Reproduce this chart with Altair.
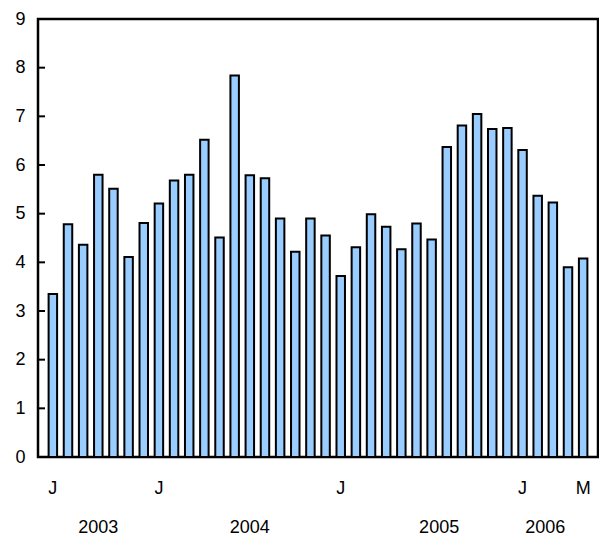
import altair as alt
import pandas as pd

months = [
    "2003-06", "2003-07", "2003-08", "2003-09", "2003-10", "2003-11", "2003-12",
    "2004-01", "2004-02", "2004-03", "2004-04", "2004-05", "2004-06", "2004-07",
    "2004-08", "2004-09", "2004-10", "2004-11", "2004-12",
    "2005-01", "2005-02", "2005-03", "2005-04", "2005-05", "2005-06", "2005-07",
    "2005-08", "2005-09", "2005-10", "2005-11", "2005-12",
    "2006-01", "2006-02", "2006-03", "2006-04", "2006-05",
]
values = [
    3.35, 4.78, 4.36, 5.80, 5.51, 4.11, 4.81, 5.21, 5.68, 5.80, 6.52, 4.51,
    7.84, 5.79, 5.73, 4.90, 4.22, 4.90, 4.55, 3.72, 4.31, 4.99, 4.73, 4.27,
    4.80, 4.47, 6.37, 6.81, 7.05, 6.74, 6.76, 6.31, 5.37, 5.23, 3.90, 4.08,
]
month_ticks = {"2003-06": "J", "2004-01": "J", "2005-01": "J", "2006-01": "J", "2006-05": "M"}
year_labels_a = {"2003-09": "2003", "2004-07": "2004"}
year_labels_b = {"2005-07": "2005", "2006-02": "2006"}
inner_ticks = [1, 2, 3, 4, 5, 6, 7, 8]

FONT = "Liberation Sans"
W, H = 560, 438

bars_df = pd.DataFrame({"month": months, "value": values})
label_expr = " : ".join(
    [f"datum.value == '{k}' ? '{v}'" for k, v in month_ticks.items()] + ["''"]
)

xscale = alt.Scale(domain=months, paddingInner=0.44, paddingOuter=0.7)

bars = alt.Chart(bars_df).mark_bar(
    fill="#99ccff", stroke="black", strokeWidth=2
).encode(
    x=alt.X("month:N", scale=xscale,
            axis=alt.Axis(title=None, ticks=False, domain=False, labelAngle=0,
                          labelExpr=label_expr, labelFont=FONT, labelFontSize=18,
                          labelColor="black", labelPadding=22, labelAlign="center")),
    y=alt.Y("value:Q", scale=alt.Scale(domain=[0, 9], nice=False),
            axis=alt.Axis(title=None, ticks=False, domain=False, grid=False,
                          values=list(range(10)), labelFont=FONT, labelFontSize=18,
                          labelColor="black", labelPadding=13)),
)

ticks = alt.Chart(pd.DataFrame({"v": inner_ticks})).mark_rule(
    color="black", strokeWidth=2
).encode(
    y=alt.Y("v:Q"),
    x=alt.value(0),
    x2=alt.value(7),
)

ya = alt.Chart(pd.DataFrame({"month": list(year_labels_a.keys()),
                             "label": list(year_labels_a.values())})).mark_text(
    font=FONT, fontSize=18, color="black", baseline="middle", align="center"
).encode(x=alt.X("month:N"), y=alt.value(H + 71), text="label:N")

yb = alt.Chart(pd.DataFrame({"month": list(year_labels_b.keys()),
                             "label": list(year_labels_b.values())})).mark_text(
    font=FONT, fontSize=18, color="black", baseline="middle", align="center", dx=7.5
).encode(x=alt.X("month:N"), y=alt.value(H + 71), text="label:N")

chart = alt.layer(bars, ticks, ya, yb).properties(
    width=W, height=H,
    autosize=alt.AutoSizeParams(type="none"),
    padding={"left": 38, "top": 19, "right": 1, "bottom": 80},
).configure_view(stroke="black", strokeWidth=2.5)

chart.save("out.html", embed_options={"renderer": "svg", "actions": False})
